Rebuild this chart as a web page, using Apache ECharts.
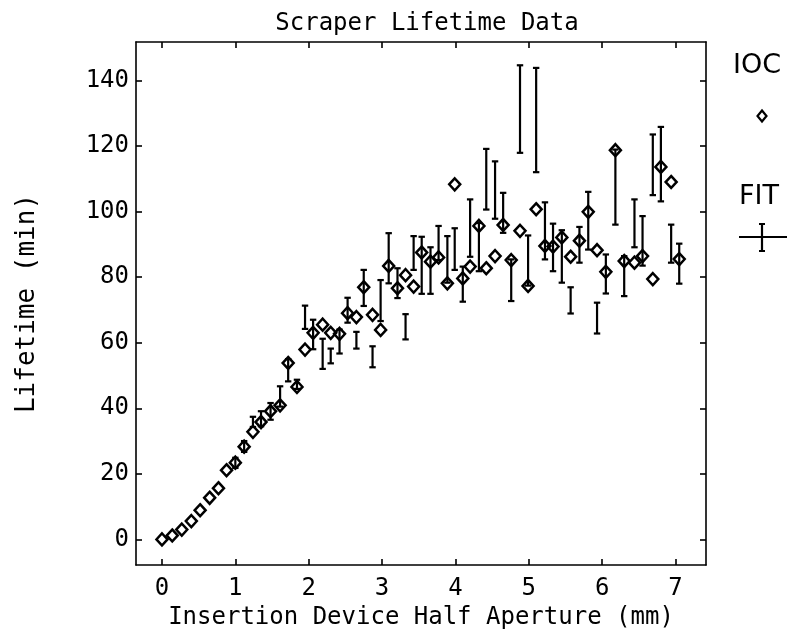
<!DOCTYPE html>
<html>
<head>
<meta charset="utf-8">
<script src="https://cdn.jsdelivr.net/npm/echarts@6/dist/echarts.min.js"></script>
<style>
html,body{margin:0;padding:0;background:#fff;}
#chart{width:792px;height:635px;}
</style>
</head>
<body>
<div id="chart"></div>
<script>
// ---- data ----
const chartTitle = 'Scraper Lifetime Data';
const xAxisTitle = 'Insertion Device Half Aperture (mm)';
const yAxisTitle = 'Lifetime (min)';
const xTicks = [0, 1, 2, 3, 4, 5, 6, 7];
const yTicks = [0, 20, 40, 60, 80, 100, 120, 140];

// half aperture (mm)
const apertures = [0.00,0.14,0.27,0.40,0.52,0.65,0.77,0.88,1.00,1.12,1.24,1.35,1.48,1.61,1.72,1.84,1.95,2.06,2.19,2.30,2.42,2.53,2.65,2.75,2.87,2.98,3.09,3.21,3.32,3.43,3.54,3.66,3.77,3.89,3.99,4.10,4.20,4.32,4.42,4.54,4.65,4.76,4.88,4.99,5.10,5.22,5.33,5.45,5.57,5.69,5.81,5.93,6.05,6.18,6.30,6.44,6.55,6.69,6.80,6.94,7.05];
// IOC lifetime (min)
const iocLifetime = [0.0,1.2,3.0,5.6,8.9,12.7,15.6,21.1,23.4,28.3,32.8,35.8,39.1,40.9,53.8,46.5,57.9,63.0,65.5,63.0,62.7,69.0,67.8,76.9,68.5,63.9,83.4,76.6,80.6,77.1,87.5,84.7,86.0,78.1,108.3,79.6,83.2,95.6,82.7,86.4,95.9,85.2,94.1,77.3,100.7,89.5,89.3,92.1,86.2,91.1,99.9,88.2,81.6,118.7,84.9,84.4,86.4,79.4,113.6,109.0,85.5];
// FIT lifetime error bar lower / upper ends (min)
const fitLow  = [null,null,null,null,null,null,null,null,21.8,26.7,34.3,34.5,36.5,40.5,48.2,45.9,64.2,58.0,52.0,53.7,56.7,66.1,58.2,71.2,52.5,66.6,78.1,73.6,61.0,82.2,74.9,74.9,85.2,78.3,82.2,72.5,86.2,81.8,100.6,97.8,93.5,72.7,117.9,77.4,112.0,85.4,81.8,78.3,68.9,84.4,88.4,62.8,75.0,96.0,74.2,89.1,83.5,105.0,103.1,84.4,78.0];
const fitHigh = [null,null,null,null,null,null,null,null,24.9,30.0,37.4,39.1,41.6,46.7,55.0,48.7,71.3,67.0,61.2,58.2,64.0,73.7,63.3,82.2,58.9,79.1,93.4,82.7,68.7,92.5,92.3,89.1,95.6,92.5,94.9,83.2,103.7,96.5,119.1,115.3,105.7,85.4,144.6,92.7,143.8,102.8,96.3,94.3,76.9,95.3,106.0,72.2,86.9,118.9,86.4,103.7,98.6,123.5,125.8,96.0,90.2];

// ---- build series data ----
const iocData = apertures.map((x, i) => [x, iocLifetime[i]]);
const fitData = [];
apertures.forEach((x, i) => {
  if (fitLow[i] != null && fitHigh[i] != null) fitData.push([x, fitLow[i], fitHigh[i]]);
});

const FONT = '"DejaVu Sans Mono", "DejaVu Sans", sans-serif';
const INK = '#000';

function frameAxis(extra) {
  return Object.assign({
    type: 'value',
    axisLine: { show: true, onZero: false, lineStyle: { color: INK, width: 1.6 } },
    axisTick: { show: true, inside: true, length: 6, lineStyle: { color: INK, width: 1.6 } },
    splitLine: { show: false },
    axisLabel: { show: false }
  }, extra);
}

const chart = echarts.init(document.getElementById('chart'), null, { renderer: 'canvas' });

const option = {
  backgroundColor: '#fff',
  animation: false,
  title: {
    text: chartTitle,
    left: 422,
    top: 7,
    textAlign: 'center',
    textStyle: { fontFamily: FONT, fontSize: 24, fontWeight: 'normal', color: INK }
  },
  grid: { left: 136, right: 86, top: 42, bottom: 69, containLabel: false },
  xAxis: [
    frameAxis({
      position: 'bottom', min: -0.354, max: 7.415,
      axisTick: { show: true, inside: true, length: 6, customValues: xTicks, lineStyle: { color: INK, width: 1.6 } },
      axisLabel: { show: true, customValues: xTicks, margin: 12, color: INK, fontFamily: FONT, fontSize: 24 },
      name: xAxisTitle, nameLocation: 'middle', nameGap: 41,
      nameTextStyle: { fontFamily: FONT, fontSize: 24, color: INK }
    }),
    frameAxis({
      position: 'top', min: -0.354, max: 7.415,
      axisTick: { show: true, inside: true, length: 6, customValues: xTicks, lineStyle: { color: INK, width: 1.6 } }
    })
  ],
  yAxis: [
    frameAxis({
      position: 'left', min: -7.8, max: 151.7,
      axisTick: { show: true, inside: true, length: 6, customValues: yTicks, lineStyle: { color: INK, width: 1.6 } },
      axisLabel: { show: true, customValues: yTicks, margin: 7, color: INK, fontFamily: FONT, fontSize: 24 },
      name: yAxisTitle, nameLocation: 'middle', nameGap: 96, nameRotate: 90,
      nameTextStyle: { fontFamily: FONT, fontSize: 26, color: INK }
    }),
    frameAxis({
      position: 'right', min: -7.8, max: 151.7,
      axisTick: { show: true, inside: true, length: 6, customValues: yTicks, lineStyle: { color: INK, width: 1.6 } }
    })
  ],
  series: [
    {
      name: 'FIT',
      type: 'custom',
      xAxisIndex: 0, yAxisIndex: 0,
      data: fitData,
      encode: { x: 0, y: [1, 2] },
      renderItem: function (params, api) {
        const x = api.value(0);
        const lo = api.coord([x, api.value(1)]);
        const hi = api.coord([x, api.value(2)]);
        const w = 3.2;
        const st = { stroke: INK, lineWidth: 2.2, fill: null };
        return {
          type: 'group',
          children: [
            { type: 'line', shape: { x1: lo[0], y1: lo[1], x2: hi[0], y2: hi[1] }, style: st },
            { type: 'line', shape: { x1: lo[0] - w, y1: lo[1], x2: lo[0] + w, y2: lo[1] }, style: st },
            { type: 'line', shape: { x1: hi[0] - w, y1: hi[1], x2: hi[0] + w, y2: hi[1] }, style: st }
          ]
        };
      },
      z: 2
    },
    {
      name: 'IOC',
      type: 'scatter',
      xAxisIndex: 0, yAxisIndex: 0,
      data: iocData,
      symbol: 'diamond',
      symbolSize: [11, 12],
      itemStyle: { color: 'rgba(255,255,255,0)', borderColor: INK, borderWidth: 2.5, opacity: 1 },
      z: 3
    }
  ],
  graphic: [
    { type: 'text', left: 733, top: 52, style: { text: 'IOC', font: '27px "DejaVu Sans", sans-serif', fill: INK } },
    { type: 'polygon', shape: { points: [[762, 110.5], [766.5, 116], [762, 121.5], [757.5, 116]] }, style: { fill: '#fff', stroke: INK, lineWidth: 2.2 } },
    { type: 'text', left: 739, top: 183, style: { text: 'FIT', font: '27px "DejaVu Sans", sans-serif', fill: INK } },
    { type: 'line', shape: { x1: 739, y1: 237, x2: 787, y2: 237 }, style: { stroke: INK, lineWidth: 2 } },
    { type: 'line', shape: { x1: 762, y1: 224, x2: 762, y2: 251 }, style: { stroke: INK, lineWidth: 2.2 } },
    { type: 'line', shape: { x1: 759, y1: 224, x2: 765, y2: 224 }, style: { stroke: INK, lineWidth: 2 } },
    { type: 'line', shape: { x1: 759, y1: 251, x2: 765, y2: 251 }, style: { stroke: INK, lineWidth: 2 } }
  ]
};
chart.setOption(option);
</script>
</body>
</html>
